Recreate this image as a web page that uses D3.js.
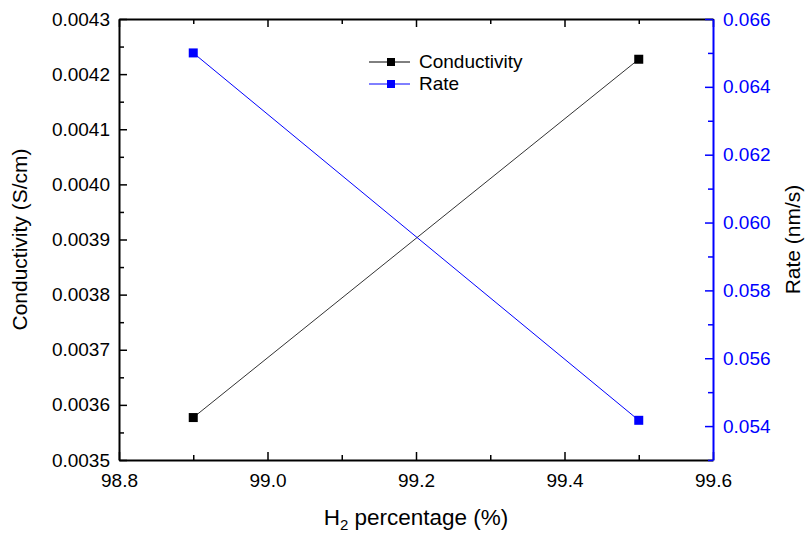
<!DOCTYPE html>
<html>
<head>
<meta charset="utf-8">
<script src="https://cdn.jsdelivr.net/npm/d3@7"></script>
<style>
    body { margin: 0; background: #fff; }
    svg text { font-family: Arial, "Liberation Sans", sans-serif; }
</style>
</head>
<body>
<svg id="chart" width="806" height="534"></svg>
<script>
// data
var h2_percent = [98.9, 99.5];
var conductivity = [0.003577, 0.004227];
var rate = [0.0650, 0.05417];

var x_ticks = [98.8, 99.0, 99.2, 99.4, 99.6];
var x_minor = [98.9, 99.1, 99.3, 99.5];
var left_ticks = [0.0035, 0.0036, 0.0037, 0.0038, 0.0039, 0.0040, 0.0041, 0.0042, 0.0043];
var left_minor = [0.00355, 0.00365, 0.00375, 0.00385, 0.00395, 0.00405, 0.00415, 0.00425];
var right_ticks = [0.054, 0.056, 0.058, 0.060, 0.062, 0.064, 0.066];
var right_minor = [0.053, 0.055, 0.057, 0.059, 0.061, 0.063, 0.065];

var series_names = ['Conductivity', 'Rate'];
var blue = '#0000ff';

// plot box (window.top is taken, so no "top")
var plot_l = 119, plot_r = 713, plot_t = 19, plot_b = 460;
var svg = d3.select('#chart');

var x = d3.scaleLinear().domain([98.8, 99.6]).range([plot_l, plot_r]);
var y_left = d3.scaleLinear().domain([0.0035, 0.0043]).range([plot_b, plot_t]);
var y_right = d3.scaleLinear().domain([0.053, 0.066]).range([plot_b, plot_t]);

function style_axis(g, colour) {
    g.select('.domain').attr('stroke', colour).attr('stroke-width', 2);
    g.selectAll('.tick line').attr('stroke', colour).attr('stroke-width', 1.5);
    g.selectAll('.tick text').attr('fill', colour).attr('font-size', 19)
        .attr('font-family', 'Arial, "Liberation Sans", sans-serif');
}

// bottom axis
var gx = svg.append('g').attr('transform', 'translate(0,' + plot_b + ')')
    .call(d3.axisBottom(x).tickValues(x_ticks).tickFormat(d3.format('.1f'))
        .tickSize(-8).tickSizeOuter(0).tickPadding(9));
style_axis(gx, '#000');
gx.selectAll('.tick text').attr('dy', '0.95em');
svg.append('g').attr('transform', 'translate(0,' + plot_b + ')')
    .call(d3.axisBottom(x).tickValues(x_minor).tickFormat('').tickSize(-5).tickSizeOuter(0))
    .call(function (g) { g.select('.domain').remove(); style_axis(g, '#000'); });

// top axis (no labels)
var gt = svg.append('g').attr('transform', 'translate(0,' + plot_t + ')')
    .call(d3.axisTop(x).tickValues(x_ticks).tickFormat('').tickSize(-8).tickSizeOuter(0));
style_axis(gt, '#000');
svg.append('g').attr('transform', 'translate(0,' + plot_t + ')')
    .call(d3.axisTop(x).tickValues(x_minor).tickFormat('').tickSize(-5).tickSizeOuter(0))
    .call(function (g) { g.select('.domain').remove(); style_axis(g, '#000'); });

// left axis
var gl = svg.append('g').attr('transform', 'translate(' + plot_l + ',0)')
    .call(d3.axisLeft(y_left).tickValues(left_ticks).tickFormat(d3.format('.4f'))
        .tickSize(-8).tickSizeOuter(0).tickPadding(9));
style_axis(gl, '#000');
svg.append('g').attr('transform', 'translate(' + plot_l + ',0)')
    .call(d3.axisLeft(y_left).tickValues(left_minor).tickFormat('').tickSize(-5).tickSizeOuter(0))
    .call(function (g) { g.select('.domain').remove(); style_axis(g, '#000'); });

// right axis
var gr = svg.append('g').attr('transform', 'translate(' + plot_r + ',0)')
    .call(d3.axisRight(y_right).tickValues(right_ticks).tickFormat(d3.format('.3f'))
        .tickSize(-8).tickSizeOuter(0).tickPadding(10));
style_axis(gr, blue);
svg.append('g').attr('transform', 'translate(' + plot_r + ',0)')
    .call(d3.axisRight(y_right).tickValues(right_minor).tickFormat('').tickSize(-5).tickSizeOuter(0))
    .call(function (g) { g.select('.domain').remove(); style_axis(g, blue); });

// lines and markers
var line_left = d3.line().x(function (d, i) { return x(h2_percent[i]); })
    .y(function (d) { return y_left(d); });
var line_right = d3.line().x(function (d, i) { return x(h2_percent[i]); })
    .y(function (d) { return y_right(d); });

svg.append('path').datum(conductivity).attr('d', line_left)
    .attr('fill', 'none').attr('stroke', '#333').attr('stroke-width', 1);
svg.append('path').datum(rate).attr('d', line_right)
    .attr('fill', 'none').attr('stroke', blue).attr('stroke-width', 1);

var m = 9;
svg.selectAll('rect.cond').data(conductivity).enter().append('rect')
    .attr('class', 'cond')
    .attr('x', function (d, i) { return x(h2_percent[i]) - m / 2; })
    .attr('y', function (d) { return y_left(d) - m / 2; })
    .attr('width', m).attr('height', m).attr('fill', '#000');
svg.selectAll('rect.rate').data(rate).enter().append('rect')
    .attr('class', 'rate')
    .attr('x', function (d, i) { return x(h2_percent[i]) - m / 2; })
    .attr('y', function (d) { return y_right(d) - m / 2; })
    .attr('width', m).attr('height', m).attr('fill', blue);

// legend
var legend = svg.append('g');
var legend_colours = ['#000', blue];
series_names.forEach(function (name, i) {
    var ly = 62 + i * 22;
    legend.append('line').attr('x1', 369).attr('x2', 410).attr('y1', ly).attr('y2', ly)
        .attr('stroke', legend_colours[i]).attr('stroke-width', 1);
    legend.append('rect').attr('x', 387).attr('y', ly - 4).attr('width', 8).attr('height', 8)
        .attr('fill', legend_colours[i]);
    legend.append('text').attr('x', 419).attr('y', ly + 6).attr('font-size', 19)
        .attr('fill', '#000').text(name);
});

// axis titles
var xt = svg.append('text').attr('x', (plot_l + plot_r) / 2).attr('y', 525)
    .attr('text-anchor', 'middle').attr('font-size', 22.5).attr('fill', '#000');
xt.append('tspan').text('H');
xt.append('tspan').attr('font-size', 15).attr('dy', 5).text('2');
xt.append('tspan').attr('dy', -5).text(' percentage (%)');

svg.append('text').attr('transform', 'translate(27,' + (plot_t + plot_b) / 2 + ') rotate(-90)')
    .attr('text-anchor', 'middle').attr('font-size', 21).attr('fill', '#000')
    .text('Conductivity (S/cm)');
svg.append('text').attr('transform', 'translate(800,' + (plot_t + plot_b) / 2 + ') rotate(-90)')
    .attr('text-anchor', 'middle').attr('font-size', 21).attr('fill', '#000')
    .text('Rate (nm/s)');
</script>
</body>
</html>
